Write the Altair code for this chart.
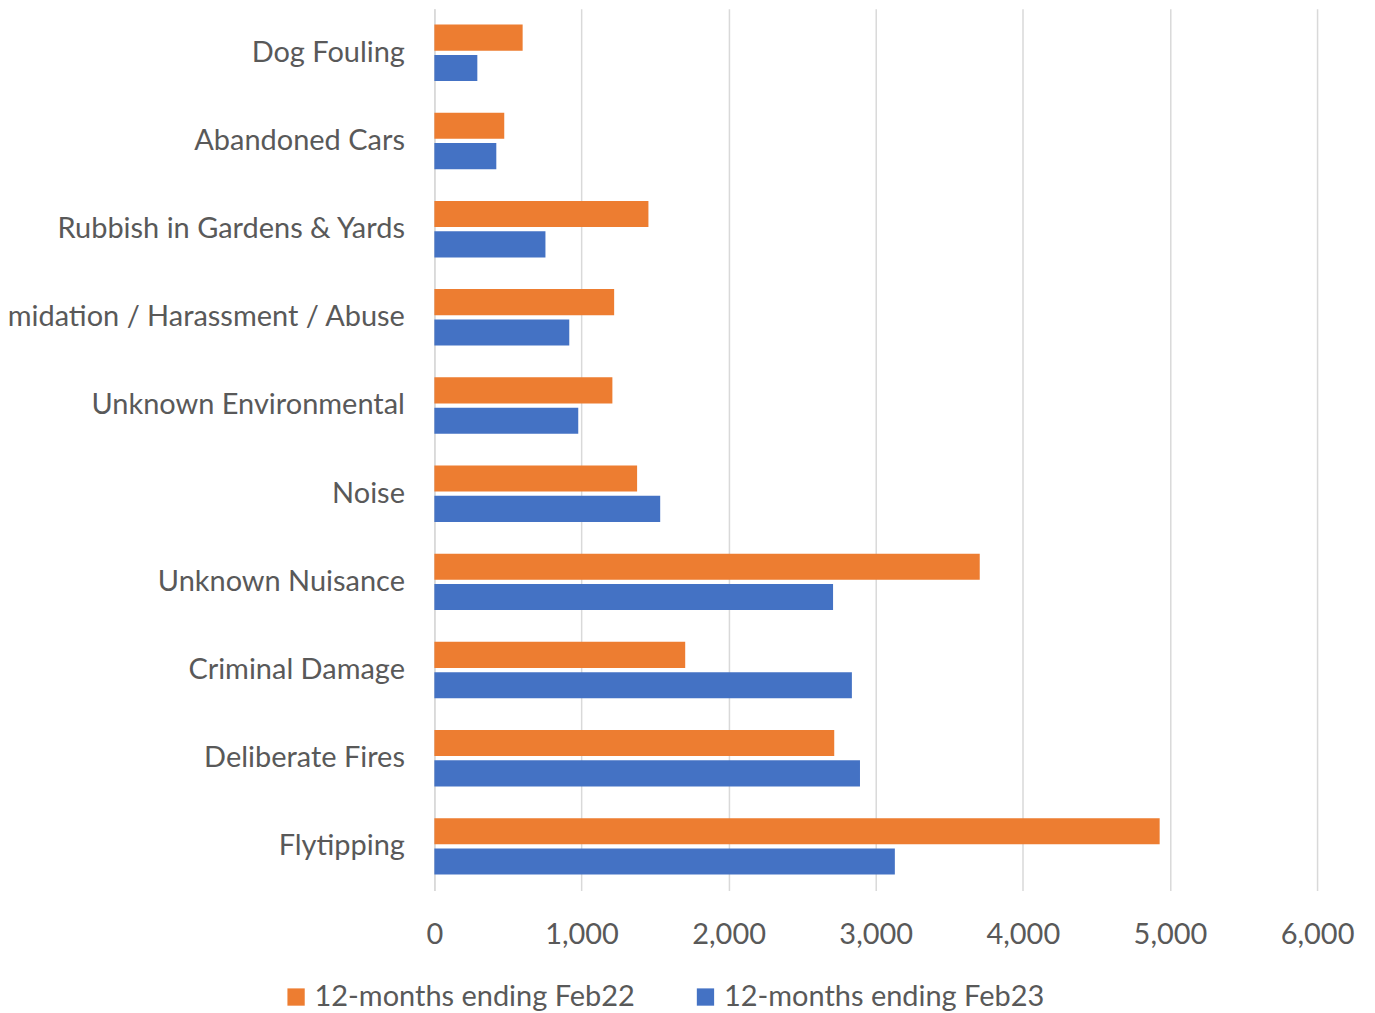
import altair as alt
import pandas as pd

categories = ["Dog Fouling", "Abandoned Cars", "Rubbish in Gardens & Yards",
              "Intimidation / Harassment / Abuse", "Unknown Environmental", "Noise",
              "Unknown Nuisance", "Criminal Damage", "Deliberate Fires", "Flytipping"]
series = ["12-months ending Feb22", "12-months ending Feb23"]
feb22 = [600, 475, 1455, 1222, 1210, 1378, 3707, 1705, 2718, 4930]
feb23 = [292, 421, 755, 917, 978, 1535, 2710, 2838, 2893, 3130]

rows = []
for c, a, b in zip(categories, feb22, feb23):
    rows.append({"category": c, "series": series[0], "value": a})
    rows.append({"category": c, "series": series[1], "value": b})
df = pd.DataFrame(rows)

FONT = "Lato"
GREY = "#595959"
FS = 29

chart = alt.Chart(df).mark_bar().encode(
    y=alt.Y("category:N", sort=categories, title=None,
            scale=alt.Scale(paddingInner=0.36, paddingOuter=0.18),
            axis=alt.Axis(labelFontSize=FS, labelFont=FONT, labelColor=GREY,
                          labelPadding=30, ticks=False, domain=True,
                          domainColor="#d9d9d9", domainWidth=1.5, labelLimit=1000)),
    x=alt.X("value:Q", title=None,
            scale=alt.Scale(domain=[0, 6000], nice=False),
            axis=alt.Axis(values=[0, 1000, 2000, 3000, 4000, 5000, 6000], format=",.0f",
                          labelFontSize=FS, labelFont=FONT, labelColor=GREY,
                          labelPadding=30, ticks=False, domain=False, labelFlush=False,
                          labelOverlap=False,
                          gridColor="#d9d9d9", gridWidth=1.5)),
    yOffset=alt.YOffset("series:N", sort=series,
                        scale=alt.Scale(paddingInner=0.14, paddingOuter=0)),
    color=alt.Color("series:N", sort=series,
                    scale=alt.Scale(domain=series, range=["#ED7D31", "#4472C4"]),
                    legend=alt.Legend(title=None, orient="none", direction="horizontal",
                                      legendX=-153, legendY=975,
                                      symbolType="square", symbolSize=300,
                                      symbolStrokeWidth=0, labelLimit=500,
                                      labelFontSize=FS, labelFont=FONT, labelColor=GREY,
                                      labelOffset=4, columnPadding=56)),
).properties(
    width=884, height=883,
    autosize=alt.AutoSizeParams(type="none"),
    padding={"left": 427, "top": 0, "right": 50, "bottom": 120},
).configure_view(stroke=None)

chart.save("out.html", embed_options={"renderer": "svg", "actions": False})
